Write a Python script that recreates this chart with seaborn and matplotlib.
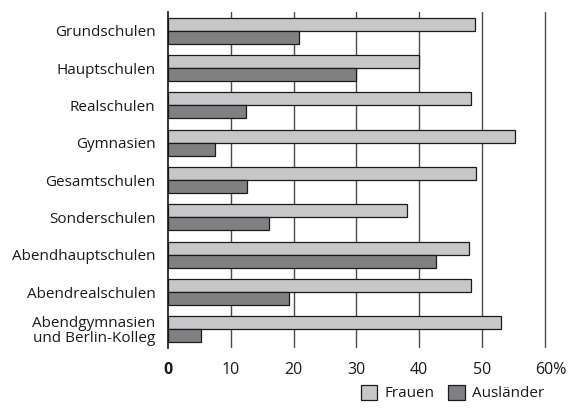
import matplotlib
matplotlib.use("Agg")
import matplotlib.pyplot as plt
import matplotlib.transforms as mtransforms
from matplotlib.patches import Patch
import seaborn as sns
import pandas as pd

categories = ["Grundschulen", "Hauptschulen", "Realschulen", "Gymnasien",
              "Gesamtschulen", "Sonderschulen", "Abendhauptschulen",
              "Abendrealschulen", "Abendgymnasien\nund Berlin-Kolleg"]
frauen = [48.9, 39.9, 48.2, 55.2, 49.1, 38.1, 48.0, 48.3, 53.0]
auslaender = [20.9, 30.0, 12.4, 7.5, 12.6, 16.1, 42.7, 19.2, 5.3]
series = ["Frauen", "Ausländer"]
xticks = [0, 10, 20, 30, 40, 50, 60]
xticklabels = ["0", "10", "20", "30", "40", "50", "60%"]

df = pd.DataFrame({
    "Schulart": categories * 2,
    "Anteil": frauen + auslaender,
    "Gruppe": [series[0]] * len(categories) + [series[1]] * len(categories),
})

sns.set_style("white")
plt.rcParams["font.family"] = ["Open Sans", "DejaVu Sans"]

colors = {"Frauen": "#c6c7c9", "Ausländer": "#7f7f84"}

fig = plt.figure(figsize=(5.72, 4.09), dpi=100)
ax = fig.add_axes([168 / 572, 1 - 348 / 409, (563.6 - 168) / 572, (348 - 12) / 409])

sns.barplot(data=df, y="Schulart", x="Anteil", hue="Gruppe", orient="h",
            palette=colors, width=0.7, edgecolor="#1a1a1a", linewidth=0.9,
            ax=ax, legend=False, zorder=3)

ax.set_xlim(0, 63)
ax.set_ylim(len(categories) - 0.5, -0.5)
ax.set_xlabel("")
ax.set_ylabel("")

for x in xticks[1:]:
    ax.axvline(x, color="#4a4a4a", linewidth=1.0, zorder=1)

for s in ["top", "right", "bottom"]:
    ax.spines[s].set_visible(False)
ax.spines["left"].set_color("#111111")
ax.spines["left"].set_linewidth(1.2)
ax.spines["left"].set_zorder(4)

ax.set_xticks(xticks)
ax.set_xticklabels(xticklabels)
ax.tick_params(axis="x", length=0, pad=10, labelsize=11.5, colors="#1a1a1a")
ax.tick_params(axis="y", length=0, pad=9, labelsize=11, colors="#1a1a1a")
for lbl in ax.get_yticklabels():
    lbl.set_linespacing(0.95)

xl = ax.get_xticklabels()
xl[0].set_fontweight("bold")
# shift "60%" so that "60" is centered on the gridline
offset = mtransforms.ScaledTranslation(6.5 / 100, 0, fig.dpi_scale_trans)
xl[-1].set_transform(xl[-1].get_transform() + offset)

handles = [Patch(facecolor=colors[s], edgecolor="#1a1a1a", linewidth=0.9, label=s) for s in series]
fig.legend(handles=handles, loc="lower right", bbox_to_anchor=(0.975, -0.015),
           ncol=2, frameon=False, fontsize=11, handlelength=1.1, handleheight=1.1,
           columnspacing=0.9, handletextpad=0.45, labelcolor="#1a1a1a")

fig.savefig("out.png", dpi=100)
